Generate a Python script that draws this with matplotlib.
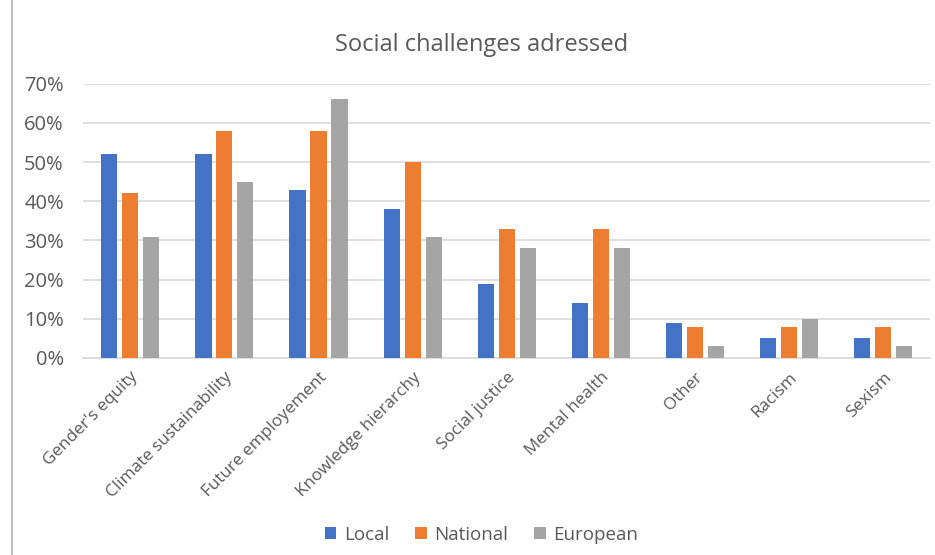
"""Social challenges adressed: grouped bar chart."""

import matplotlib.pyplot as plt
import numpy as np
from matplotlib.lines import Line2D
from matplotlib.ticker import PercentFormatter

categories = [
    "Gender's equity",
    "Climate sustainability",
    "Future employement",
    "Knowledge hierarchy",
    "Social justice",
    "Mental health",
    "Other",
    "Racism",
    "Sexism",
]
local = [52, 52, 43, 38, 19, 14, 9, 5, 5]
national = [42, 58, 58, 50, 33, 33, 8, 8, 8]
european = [31, 45, 66, 31, 28, 28, 3, 10, 3]

series = [
    ("Local", local, "#4472C4"),
    ("National", national, "#ED7D31"),
    ("European", european, "#A5A5A5"),
]

TEXT_COLOR = "#595959"
plt.rcParams["font.family"] = ["Open Sans", "DejaVu Sans"]

fig = plt.figure(figsize=(9.35, 5.55), dpi=100)
ax = fig.add_axes([0.089, 0.355, 0.906, 0.494])

x = np.arange(len(categories))
step = 0.223
width = 0.172
for i, (label, values, color) in enumerate(series):
    ax.bar(x + (i - 1) * step, values, width=width, color=color, label=label, zorder=3)

ax.set_xlim(-0.5, len(categories) - 0.5)
ax.set_ylim(0, 70)
ax.set_yticks(range(0, 71, 10))
ax.yaxis.set_major_formatter(PercentFormatter(decimals=0))
ax.grid(axis="y", color="#D9D9D9", linewidth=1.2, zorder=0)
for side in ["top", "right", "left"]:
    ax.spines[side].set_visible(False)
ax.spines["bottom"].set_color("#D9D9D9")
ax.spines["bottom"].set_linewidth(1.2)
ax.tick_params(axis="both", length=0, colors=TEXT_COLOR)
ax.tick_params(axis="y", labelsize=14.5, pad=14)
ax.set_xticks(x)
ax.set_xticklabels(categories, rotation=45, ha="right", rotation_mode="anchor",
                   fontsize=12.3)
ax.tick_params(axis="x", pad=8)

fig.text(0.515, 0.919, "Social challenges adressed", ha="center", va="center",
         fontsize=17, color=TEXT_COLOR)

fig.legend(loc="center", bbox_to_anchor=(0.515, 0.036), ncol=3, frameon=False,
           fontsize=13.5, labelcolor=TEXT_COLOR, handlelength=0.6, handleheight=0.6,
           handletextpad=0.4, columnspacing=1.4)

# light frame line on the left edge, like the pasted chart
fig.add_artist(Line2D([0.013, 0.013], [0, 1], transform=fig.transFigure,
                      color="#BFBFBF", linewidth=1.5))

fig.savefig("out.png", dpi=100)
